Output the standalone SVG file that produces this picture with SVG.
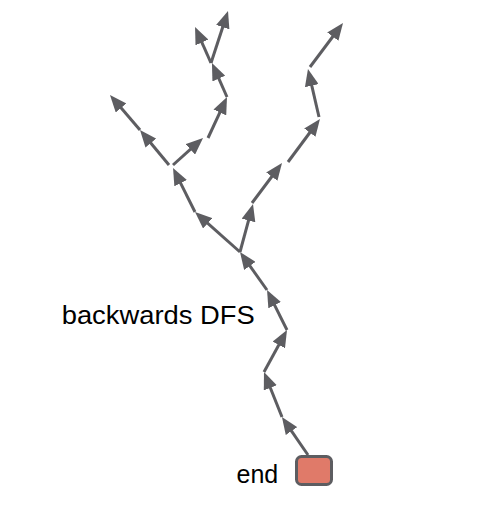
<svg xmlns="http://www.w3.org/2000/svg" width="495" height="508" viewBox="0 0 495 508">
<style>
.e{fill:none;stroke:#5d5d61;stroke-width:3;marker-end:url(#ah)}
.t{font-family:"Liberation Sans",Arial,sans-serif;fill:#000}
</style>
<defs>
<marker id="ah" viewBox="0 -7 17 14" refX="7" refY="0" markerWidth="17" markerHeight="14" markerUnits="userSpaceOnUse" orient="auto">
<path d="M0,-7 L17,0 L0,7 Z" fill="#5d5d61"/>
</marker>
</defs>
<rect width="495" height="508" fill="#fff"/>
<g id="connectors">
<path class="e" d="M308,455 L287.6,425.3"/>
<path class="e" d="M282,417 L267.7,381.3"/>
<path class="e" d="M264,372 L282.2,338.8"/>
<path class="e" d="M287,330 L271.5,298.9"/>
<path class="e" d="M267,290 L245.8,260.2"/>
<path class="e" d="M240,252 L250.4,213.7"/>
<path class="e" d="M252,203 L276,171"/>
<path class="e" d="M288,162 L314,127"/>
<path class="e" d="M319,117 L310.2,78.8"/>
<path class="e" d="M310,67 L337,31"/>
<path class="e" d="M240,252 L202.5,218.6"/>
<path class="e" d="M195,212 L177.5,176.9"/>
<path class="e" d="M169,165 L146.4,137.7"/>
<path class="e" d="M140,130 L116.5,102.6"/>
<path class="e" d="M173,165 L195.6,144.7"/>
<path class="e" d="M208,138 L222.8,106.1"/>
<path class="e" d="M227,97 L216,72.2"/>
<path class="e" d="M211,63 L199.1,36.1"/>
<path class="e" d="M211,63 L224.9,20.5"/>
</g>
<g id="label-dfs">
<text class="t" x="61.7" y="324" font-size="26" textLength="193" lengthAdjust="spacingAndGlyphs">backwards DFS</text>
</g>
<g id="end">
<rect x="296.5" y="456.5" width="35" height="28" rx="5" fill="#e07a69" stroke="#5d5d61" stroke-width="3"/>
<text class="t" x="236.5" y="483" font-size="25">end</text>
</g>
</svg>
